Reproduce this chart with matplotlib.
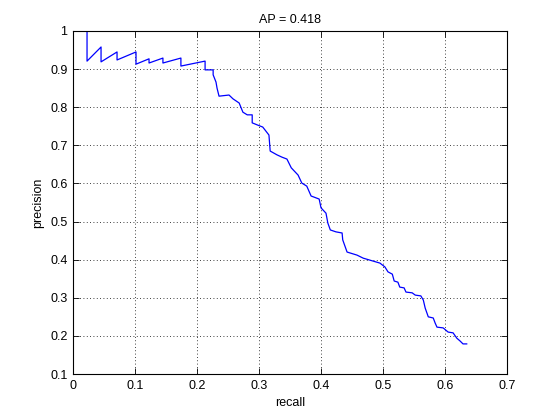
import matplotlib
matplotlib.use('Agg')
import matplotlib.pyplot as plt

# sawtooth head of the PR curve (recall, precision)
head_recall = [0.0226, 0.0226, 0.0452, 0.0452, 0.071, 0.071, 0.1016, 0.1016,
               0.1226, 0.1226, 0.145, 0.145, 0.174, 0.174, 0.213]
head_prec = [1.0, 0.921, 0.958, 0.919, 0.945, 0.924, 0.945, 0.913,
             0.927, 0.916, 0.929, 0.916, 0.929, 0.908, 0.921]

# staircase tail
tail_recall = [0.213, 0.213, 0.226, 0.226, 0.2306, 0.2323, 0.2355, 0.2516, 0.258,
               0.268, 0.274, 0.281, 0.289, 0.289, 0.298, 0.306, 0.316, 0.318,
               0.329, 0.337, 0.345, 0.352, 0.363, 0.369, 0.377, 0.384, 0.389,
               0.397, 0.400, 0.408, 0.411, 0.415, 0.424, 0.434, 0.435, 0.442,
               0.458, 0.468, 0.495, 0.503, 0.508, 0.515, 0.518, 0.524, 0.527,
               0.534, 0.537, 0.547, 0.552, 0.561, 0.565, 0.568, 0.573, 0.581,
               0.584, 0.587, 0.597, 0.605, 0.613, 0.619, 0.624, 0.629, 0.635]
tail_prec = [0.921, 0.898, 0.898, 0.885, 0.866, 0.850, 0.829, 0.832, 0.822,
             0.811, 0.787, 0.780, 0.780, 0.759, 0.753, 0.748, 0.727, 0.685,
             0.675, 0.669, 0.664, 0.641, 0.622, 0.601, 0.593, 0.567, 0.564,
             0.559, 0.536, 0.522, 0.496, 0.478, 0.473, 0.470, 0.452, 0.420,
             0.412, 0.404, 0.391, 0.381, 0.368, 0.362, 0.344, 0.341, 0.328,
             0.326, 0.315, 0.313, 0.307, 0.305, 0.294, 0.273, 0.250, 0.247,
             0.234, 0.223, 0.221, 0.210, 0.208, 0.194, 0.187, 0.179, 0.179]

AP = 0.418

plt.rcParams['font.family'] = ['Liberation Sans', 'DejaVu Sans']
plt.rcParams['font.size'] = 9

fig = plt.figure(figsize=(5.6, 4.2), dpi=100)
ax = fig.add_axes([0.1304, 0.1095, 0.775, 0.8167])

ax.plot(head_recall + tail_recall, head_prec + tail_prec, color='#0000ff', lw=0.9)

ax.set_xlim(0, 0.7)
ax.set_ylim(0.1, 1.0)
ax.set_xticks([0, 0.1, 0.2, 0.3, 0.4, 0.5, 0.6, 0.7])
ax.set_xticklabels(['0', '0.1', '0.2', '0.3', '0.4', '0.5', '0.6', '0.7'])
ax.set_yticks([0.1, 0.2, 0.3, 0.4, 0.5, 0.6, 0.7, 0.8, 0.9, 1.0])
ax.set_yticklabels(['0.1', '0.2', '0.3', '0.4', '0.5', '0.6', '0.7', '0.8', '0.9', '1'])
ax.tick_params(direction='in', top=True, right=True, length=4, width=0.6, pad=4)
ax.grid(True, color='k', linestyle=(0, (1, 3)), lw=0.6)
for s in ax.spines.values():
    s.set_linewidth(0.8)

ax.set_xlabel('recall')
ax.set_ylabel('precision')
ax.set_title(f'AP = {AP:.3f}', fontsize=9, pad=6)

fig.savefig('out.png', dpi=100)
